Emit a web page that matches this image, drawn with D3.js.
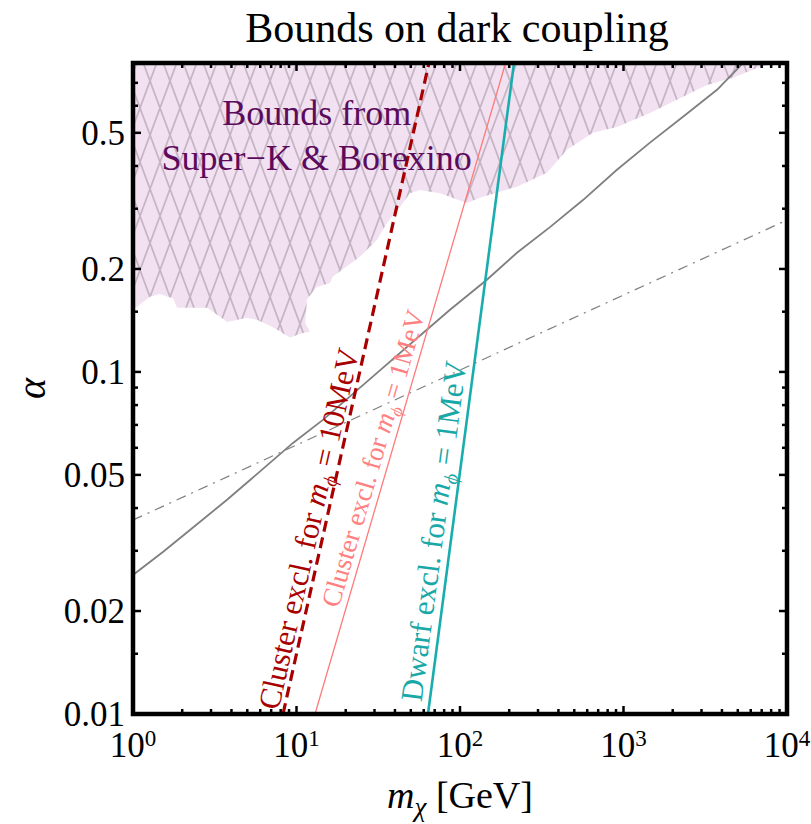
<!DOCTYPE html>
<html><head><meta charset="utf-8">
<script src="https://cdn.jsdelivr.net/npm/d3@7"></script>
<style>body{margin:0;background:#fff}</style>
</head><body>
<svg id="chart" width="811" height="824"></svg>
<script>
// ---------- data ----------
const xDomain = [1, 10000];
const yDomain = [0.01, 0.8];
const xTickValues = [1, 10, 100, 1000, 10000];
const xTickExponents = ["0", "1", "2", "3", "4"];
const yTickValues = [0.01, 0.02, 0.05, 0.1, 0.2, 0.5];
const yTickLabels = ["0.01", "0.02", "0.05", "0.1", "0.2", "0.5"];
const yMinorTicks = [0.015, 0.03, 0.04, 0.06, 0.07, 0.08, 0.09, 0.15, 0.3, 0.4, 0.6, 0.7];

// Super-K & Borexino excluded region (lower boundary)
const boundMass  = [1, 1.27, 1.46, 1.76, 1.86, 2.84, 3.40, 3.76, 4.98, 5.73, 7.18, 9.12, 10.96, 12.1, 11.3, 11.6, 13.3, 16.0, 16.7, 24.4, 31.0, 35.8, 43.0, 49.4, 56.9, 75.5, 110, 138, 223, 340, 451, 650, 912, 1452, 2312, 3243, 4677, 6561, 8453];
const boundAlpha = [0.152, 0.166, 0.169, 0.164, 0.154, 0.154, 0.145, 0.140, 0.144, 0.142, 0.135, 0.126, 0.130, 0.131, 0.139, 0.163, 0.177, 0.182, 0.190, 0.217, 0.243, 0.273, 0.304, 0.333, 0.340, 0.333, 0.312, 0.325, 0.348, 0.382, 0.446, 0.500, 0.520, 0.571, 0.637, 0.690, 0.724, 0.774, 0.80];

// gray solid curve
const relicMass  = [1, 1.53, 2.23, 3.76, 5.20, 9.52, 14.5, 31.1, 59.4, 86.9, 146, 223, 355, 565, 912, 1452, 2312, 3733, 5383];
const relicAlpha = [0.0255, 0.0298, 0.0345, 0.0423, 0.0483, 0.0620, 0.0724, 0.0994, 0.130, 0.152, 0.186, 0.223, 0.265, 0.318, 0.390, 0.468, 0.557, 0.668, 0.80];

// gray dot-dashed curve
const dashDotMass  = [1, 10000];
const dashDotAlpha = [0.0369, 0.278];

// exclusion lines
const cluster10Mass  = [8.27, 64.6];
const cluster10Alpha = [0.01, 0.8];
const cluster1Mass   = [12.98, 190];
const cluster1Alpha  = [0.01, 0.8];
const dwarfMass      = [63.7, 214];
const dwarfAlpha     = [0.01, 0.8];

// ---------- setup ----------
const W = 811, H = 824;
const margin = {left: 133, right: 24, top: 63, bottom: 110};
const svg = d3.select("#chart");
const FONT = "'Liberation Serif','Times New Roman',Times,serif";
const x = d3.scaleLog().domain(xDomain).range([margin.left, W - margin.right]);
const y = d3.scaleLog().domain(yDomain).range([H - margin.bottom, margin.top]);
const x0 = x.range()[0], x1 = x.range()[1], y0 = y.range()[0], y1 = y.range()[1];

const defs = svg.append("defs");
defs.append("clipPath").attr("id", "plotclip").append("rect")
  .attr("x", x0).attr("y", y1).attr("width", x1 - x0).attr("height", y0 - y1);

const pw = 20, ph = 54;
const pat = defs.append("pattern").attr("id", "hatch").attr("patternUnits", "userSpaceOnUse")
  .attr("width", pw).attr("height", ph);
pat.append("rect").attr("width", pw).attr("height", ph).attr("fill", "#f1e1f1");
let hd = "";
for (const k of [-1, 0, 1]) {
  hd += `M${k*pw - pw/2},${-ph/2}L${k*pw + pw*1.5},${ph*1.5}`;
  hd += `M${k*pw + pw*1.5},${-ph/2}L${k*pw - pw/2},${ph*1.5}`;
}
pat.append("path").attr("d", hd).attr("stroke", "#c4b4c4").attr("stroke-width", 1.7).attr("fill", "none");

const plot = svg.append("g").attr("clip-path", "url(#plotclip)");
const line = d3.line().x(d => x(d[0])).y(d => y(d[1]));
const zip = (a, b) => a.map((v, i) => [v, b[i]]);

// excluded region
const regionPts = zip(boundMass, boundAlpha).concat([[xDomain[0], yDomain[1]]]);
plot.append("path").attr("d", line(regionPts) + "Z").attr("fill", "url(#hatch)").attr("stroke", "none");

// gray curves
plot.append("path").attr("d", line(zip(relicMass, relicAlpha)))
  .attr("fill", "none").attr("stroke", "#7f7f7f").attr("stroke-width", 1.8);
plot.append("path").attr("d", line(zip(dashDotMass, dashDotAlpha)))
  .attr("fill", "none").attr("stroke", "#7f7f7f").attr("stroke-width", 1.2)
  .attr("stroke-dasharray", "10,6,2,6");

// exclusion lines
plot.append("path").attr("d", line(zip(cluster1Mass, cluster1Alpha)))
  .attr("fill", "none").attr("stroke", "#ff7a7a").attr("stroke-width", 1.3);
plot.append("path").attr("d", line(zip(dwarfMass, dwarfAlpha)))
  .attr("fill", "none").attr("stroke", "#19adad").attr("stroke-width", 2.6);
plot.append("path").attr("d", line(zip(cluster10Mass, cluster10Alpha)))
  .attr("fill", "none").attr("stroke", "#a80000").attr("stroke-width", 3.2)
  .attr("stroke-dasharray", "11,6");

// rotated line labels, placed parallel to (and just left of) their line
const lineLabels = [
  {mass: cluster10Mass, alpha: cluster10Alpha, at: 0.034, gap: 5, size: 31, color: "#a80000", pre: "Cluster excl. for ", post: " = 10MeV"},
  {mass: cluster1Mass, alpha: cluster1Alpha, at: 0.0542, gap: 7, size: 27, color: "#ff8080", pre: "Cluster excl. for ", post: " = 1MeV"},
  {mass: dwarfMass, alpha: dwarfAlpha, at: 0.0337, gap: 8, size: 31, color: "#19a8a8", pre: "Dwarf excl. for ", post: " = 1MeV"}
];
lineLabels.forEach(L => {
  const ax = x(L.mass[0]), ay = y(L.alpha[0]), bx = x(L.mass[1]), by = y(L.alpha[1]);
  const ang = Math.atan2(by - ay, bx - ax) * 180 / Math.PI;
  const t0 = (y(L.at) - ay) / (by - ay);
  const px = ax + t0 * (bx - ax), py = ay + t0 * (by - ay);
  const t = svg.append("text").attr("transform", `translate(${px},${py}) rotate(${ang})`)
    .attr("x", 0).attr("y", -L.gap)
    .attr("text-anchor", "middle")
    .attr("font-family", FONT).attr("font-size", L.size).attr("fill", L.color);
  t.append("tspan").text(L.pre);
  t.append("tspan").attr("font-style", "italic").text("m");
  t.append("tspan").attr("font-style", "italic").attr("font-size", L.size * 0.65).attr("dy", L.size * 0.22).text("ϕ");
  t.append("tspan").attr("dy", -L.size * 0.22).text(L.post);
});

// region label
const regionLabel = {m: 13.3, lines: ["Bounds from", "Super\u2212K & Borexino"], a: [0.527, 0.39]};
regionLabel.lines.forEach((s, i) => {
  svg.append("text").attr("x", x(regionLabel.m)).attr("y", y(regionLabel.a[i]))
    .attr("text-anchor", "middle").attr("font-family", FONT).attr("font-size", 36)
    .attr("fill", "#5c0b5c").text(s);
});

// frame
svg.append("rect").attr("x", x0).attr("y", y1).attr("width", x1 - x0).attr("height", y0 - y1)
  .attr("fill", "none").attr("stroke", "#000").attr("stroke-width", 4.5);

// ticks
const tg = svg.append("g").attr("stroke", "#000").attr("stroke-width", 2.5);
const xMinor = [];
[1, 10, 100, 1000].forEach(d => { for (let k = 2; k <= 9; k++) xMinor.push(k * d); });
const tick = (x1_, y1_, x2_, y2_) => tg.append("line").attr("x1", x1_).attr("y1", y1_).attr("x2", x2_).attr("y2", y2_);
xTickValues.forEach(v => { tick(x(v), y0, x(v), y0 - 8); tick(x(v), y1, x(v), y1 + 8); });
xMinor.forEach(v => { tick(x(v), y0, x(v), y0 - 5); tick(x(v), y1, x(v), y1 + 5); });
yTickValues.forEach(v => { tick(x0, y(v), x0 + 8, y(v)); tick(x1, y(v), x1 - 8, y(v)); });
yMinorTicks.forEach(v => { tick(x0, y(v), x0 + 5, y(v)); tick(x1, y(v), x1 - 5, y(v)); });

// tick labels
xTickValues.forEach((v, i) => {
  const t = svg.append("text").attr("x", x(v)).attr("y", 757).attr("text-anchor", "middle")
    .attr("font-family", FONT).attr("font-size", 35).attr("fill", "#000");
  t.append("tspan").text("10");
  t.append("tspan").attr("font-size", 23).attr("dy", -11).text(xTickExponents[i]);
});
yTickValues.forEach((v, i) => {
  svg.append("text").attr("x", x0 - 8).attr("y", y(v)).attr("dy", "0.34em").attr("text-anchor", "end")
    .attr("font-family", FONT).attr("font-size", 35).attr("fill", "#000").text(yTickLabels[i]);
});

// axis titles
const xl = svg.append("text").attr("x", (x0 + x1) / 2).attr("y", 808).attr("text-anchor", "middle")
  .attr("font-family", FONT).attr("font-size", 38).attr("fill", "#000");
xl.append("tspan").attr("font-style", "italic").text("m");
xl.append("tspan").attr("font-style", "italic").attr("font-size", 27).attr("dy", 8).text("χ");
xl.append("tspan").attr("dy", -8).text(" [GeV]");

svg.append("text").attr("transform", `translate(45,${(y0 + y1) / 2}) rotate(-90)`)
  .attr("text-anchor", "middle").attr("font-family", FONT).attr("font-size", 40)
  .attr("font-style", "italic").attr("fill", "#000").text("α");

// title
svg.append("text").attr("x", 457).attr("y", 42).attr("text-anchor", "middle")
  .attr("font-family", FONT).attr("font-size", 42).attr("fill", "#000").text("Bounds on dark coupling");
</script>
</body></html>
